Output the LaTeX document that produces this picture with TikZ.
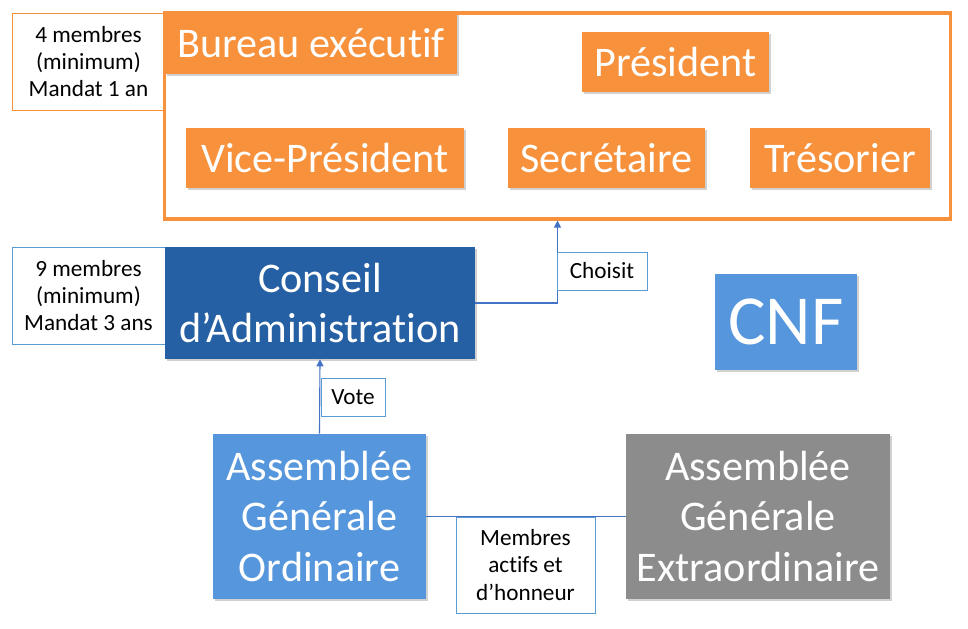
\documentclass[tikz,border=0pt]{standalone}
\usepackage{fontspec}
\setmainfont{Carlito}[Ligatures=NoCommon]
\usetikzlibrary{positioning, shadows, arrows.meta}
\definecolor{bureauorange}{RGB}{247, 145, 60}
\definecolor{conseilblue}{RGB}{38, 96, 164}
\definecolor{assemblyblue}{RGB}{85, 150, 220}
\definecolor{extragray}{RGB}{140, 140, 140}
\definecolor{linkblue}{RGB}{68, 114, 196}
\definecolor{notebluer}{RGB}{91, 155, 213}

\begin{document}
\begin{tikzpicture}[
    x=0.025cm, y=-0.025cm,
    softshadow/.style={drop shadow={fill=black!45, opacity=0.4, shadow xshift=1.5pt, shadow yshift=-1.5pt}},
    role/.style={rectangle, fill=bureauorange, text=white, inner sep=0pt, minimum height=1.5cm, font=\fontsize{30}{36}\selectfont, softshadow},
    organ/.style={rectangle, fill=#1, text=white, inner sep=0pt, align=center, font=\fontsize{30}{35.6}\selectfont, softshadow},
    note/.style={rectangle, draw=#1, fill=white, line width=0.6pt, inner sep=0pt, align=center, font=\fontsize{16.5}{19.4}\selectfont},
    link/.style={draw=linkblue, line width=0.8pt},
    arrow/.style={link, -{Triangle[width=5pt, length=5pt]}}
]
    \useasboundingbox (0,0) rectangle (968,629);

    % executive board
    \node[note=bureauorange, minimum width=3.825cm, minimum height=2.425cm] (bureaunote) at (88.5,61.5) {4 membres\\(minimum)\\Mandat 1 an};
    \node[rectangle, draw=bureauorange, fill=white, line width=2.2pt, minimum width=19.625cm, minimum height=5.15cm, softshadow] (bureau) at (557.5,116) {};
    \node[role, minimum width=7.3cm, minimum height=1.525cm] (bureautitle) at (311,43.5) {Bureau exécutif};
    \node[role, minimum width=4.675cm] (president) at (675.5,62) {Président};
    \node[role, minimum width=6.95cm] (vice) at (325,158) {Vice-Président};
    \node[role, minimum width=4.925cm] (secretaire) at (606.5,158) {Secrétaire};
    \node[role, minimum width=4.5cm] (tresorier) at (840,158) {Trésorier};

    % board of directors
    \node[note=notebluer, minimum width=3.825cm, minimum height=2.425cm] (conseilnote) at (88.5,295.5) {9 membres\\(minimum)\\Mandat 3 ans};
    \node[organ=conseilblue, minimum width=7.75cm, minimum height=2.8cm] (conseil) at (320,303) {Conseil\\d’Administration};
    \node[organ=assemblyblue, minimum width=3.55cm, minimum height=2.4cm, font=\fontsize{50}{60}\selectfont] (cnf) at (786,322) {CNF};

    % assemblies
    \node[organ=assemblyblue, minimum width=5.325cm, minimum height=4.125cm] (ago) at (319.5,516.5) {Assemblée\\Générale\\Ordinaire};
    \node[organ=extragray, minimum width=6.6cm, minimum height=4.125cm] (age) at (758,516.5) {Assemblée\\Générale\\Extraordinaire};

    \draw[arrow] (conseil.east) -| (bureau.south);
    \draw[arrow] (ago.north) -- (conseil.south);
    \draw[link] (ago.east) -- (age.west);

    \node[note=notebluer, minimum width=2.25cm, minimum height=0.95cm] (choisit) at (602,271) {Choisit};
    \node[note=notebluer, minimum width=1.6cm, minimum height=0.95cm] (vote) at (353,397) {Vote};
    \node[note=notebluer, minimum width=3.475cm, minimum height=2.4cm] (membres) at (525.5,565) {Membres\\actifs et\\d’honneur};
\end{tikzpicture}
\end{document}
